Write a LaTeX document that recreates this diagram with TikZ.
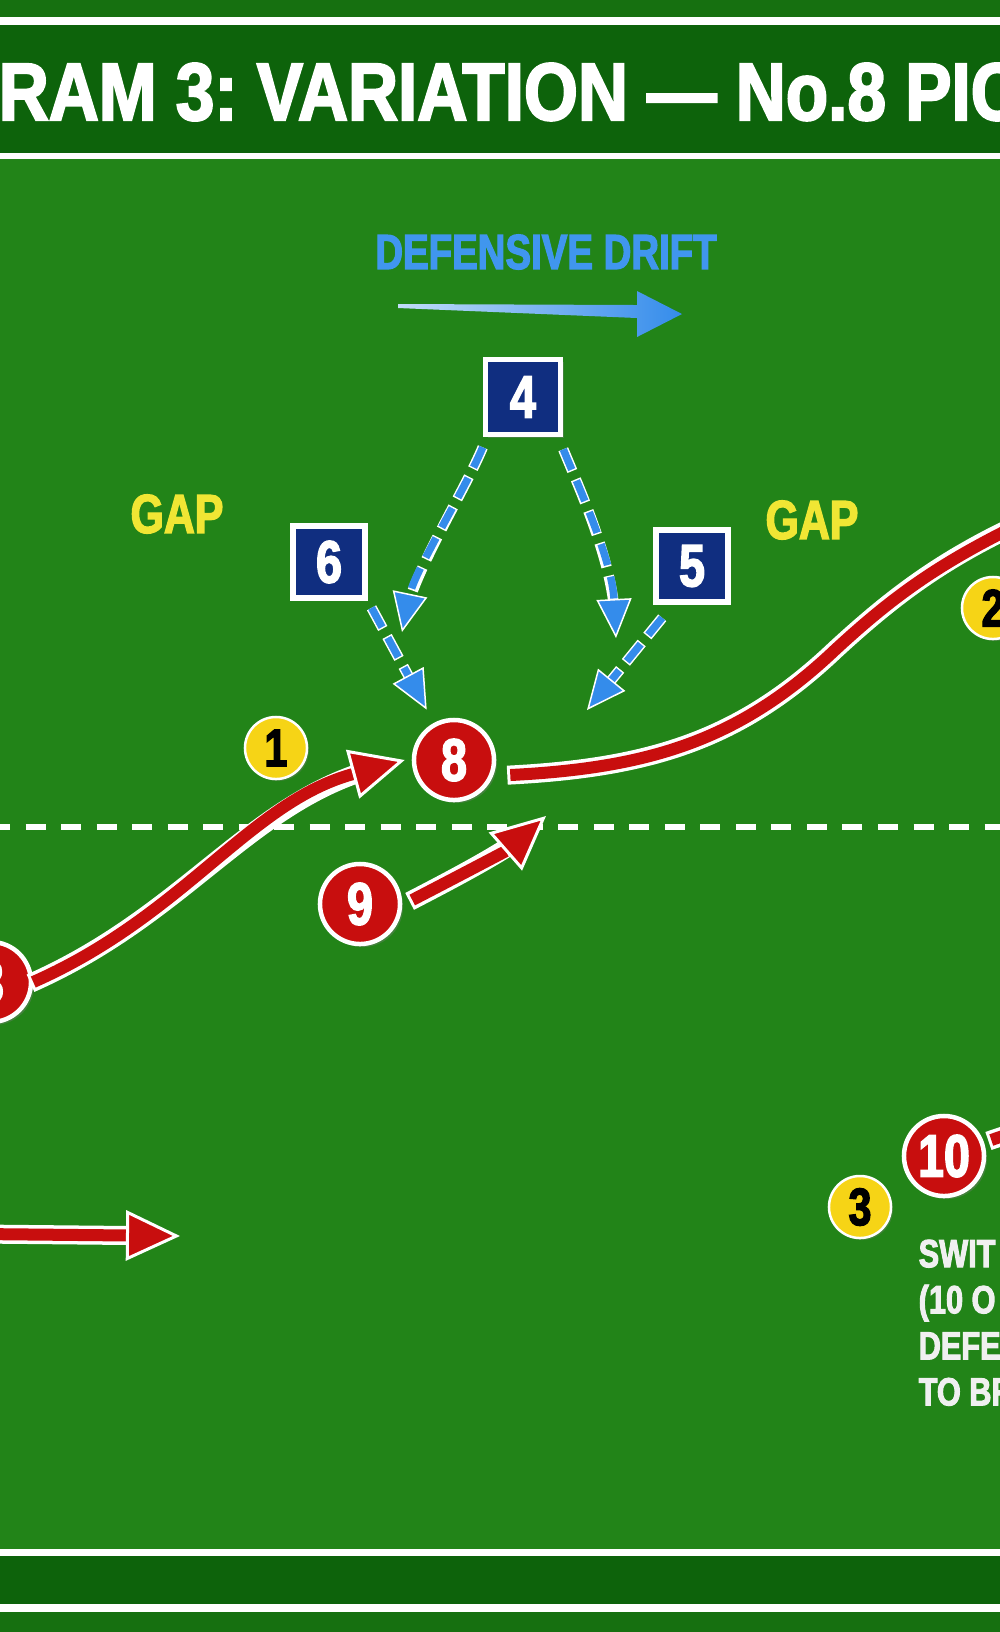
\documentclass[tikz,border=0pt]{standalone}
\usepackage{fontspec}
\setmainfont{Liberation Sans}
\newfontfamily\titlefont[FakeStretch=0.85, FakeBold=2.5]{Liberation Sans Bold}
\newfontfamily\condfont[FakeStretch=0.78, FakeBold=2.5]{Liberation Sans Bold}
\frenchspacing
\usetikzlibrary{arrows.meta,shadows}

\definecolor{pitch}{RGB}{34,132,24}
\definecolor{pitchdark}{RGB}{13,99,11}
\definecolor{pitchedge}{RGB}{22,112,16}
\definecolor{runred}{RGB}{200,14,14}
\definecolor{navy}{RGB}{16,46,128}
\definecolor{driftblue}{RGB}{52,140,235}
\definecolor{driftlabel}{RGB}{64,150,238}
\definecolor{supportyellow}{RGB}{246,212,22}
\definecolor{gapyellow}{RGB}{240,230,52}

\tikzset{
  attacker/.style={circle, fill=runred, draw=white, line width=0.045cm, minimum size=0.8cm,
    inner sep=0pt, text=white, font=\condfont\fontsize{17}{17}\selectfont,
    drop shadow={opacity=0.35, shadow xshift=0.03cm, shadow yshift=-0.03cm}},
  support/.style={circle, fill=supportyellow, draw=white, line width=0.025cm, minimum size=0.62cm,
    inner sep=0pt, text=black, font=\condfont\fontsize{15}{15}\selectfont,
    drop shadow={opacity=0.3, shadow xshift=0.02cm, shadow yshift=-0.02cm}},
  defender/.style={rectangle, fill=navy, draw=white, line width=0.055cm, minimum size=0.72cm,
    inner sep=0pt, text=white, font=\condfont\fontsize{17}{17}\selectfont,
    drop shadow={opacity=0.35, shadow xshift=0.03cm, shadow yshift=-0.03cm}},
  gaplabel/.style={inner sep=0pt, text=gapyellow, font=\condfont\fontsize{15.6}{15.6}\selectfont},
  driftlabel/.style={inner sep=0pt, text=driftlabel, font=\condfont\fontsize{14}{14}\selectfont},
  titletext/.style={inner sep=0pt, text=white, font=\titlefont\fontsize{23.2}{23.2}\selectfont},
  notetext/.style={inner sep=0pt, align=left, text=white!94!black, font=\condfont\fontsize{11.2}{13.1}\selectfont},
  runline/.style={draw=runred, line width=0.12cm,
    preaction={draw=white, line width=0.19cm, arrows=-, shorten >=0.3cm, shorten <=-0.03cm}},
  run/.style={runline, -{Triangle[length=0.54cm,width=0.5cm,line width=0.03cm,color=white,fill=runred]}},
  drift/.style={draw=driftblue, line width=0.075cm, dash pattern=on 0.22cm off 0.12cm,
    preaction={draw=white, line width=0.105cm, dash pattern=on 0.25cm off 0.09cm, dash phase=0.015cm,
      arrows=-, shorten >=#1},
    -{Triangle[length=0.39cm,width=0.35cm,line width=0.015cm,color=white,fill=driftblue]}},
  drift/.default=0.2cm
}

\begin{document}
\begin{tikzpicture}[x=0.01cm, y=-0.01cm]
    \useasboundingbox (0,0) rectangle (1000,1632);
    \clip (0,0) rectangle (1000,1632);

    % Pitch and bands
    \fill[pitch] (0,0) rectangle (1000,1632);
    \fill[pitchedge] (0,0) rectangle (1000,17);
    \fill[white] (0,17) rectangle (1000,25);
    \fill[pitchdark] (0,25) rectangle (1000,153);
    \fill[white] (0,153) rectangle (1000,159);
    \fill[white] (0,1549) rectangle (1000,1556);
    \fill[pitchdark] (0,1556) rectangle (1000,1604);
    \fill[white] (0,1604) rectangle (1000,1612);
    \fill[pitchedge] (0,1612) rectangle (1000,1632);

    % Halfway line
    \draw[white, line width=0.06cm, dash pattern=on 0.2cm off 0.155cm, dash phase=0.1cm] (0,827) -- (1000,827);

    % Title
    \node[titletext, anchor=west] (title) at (-2,92) {RAM 3: VARIATION — No.8 PIC};

    % Players
    \node[attacker] (r3) at (-9,982) {3};
    \node[attacker] (n8) at (454,760) {8};
    \node[attacker] (n9) at (360,904) {9};
    \node[attacker] (n10) at (944,1156) {10};
    \node[support] (y1) at (276,748) {1};
    \node[support] (y2) at (993,608) {2};
    \node[support] (y3) at (860,1207) {3};
    \node[defender, minimum size=0.75cm] (n4) at (523,397) {4};
    \node[defender] (n6) at (329,562) {6};
    \node[defender] (n5) at (692,566) {5};

    % Free ends
    \coordinate (tip9) at (546,816);
    \coordinate (exitR) at (1060,505);
    \coordinate (entryL) at (-20,1234);
    \coordinate (tipL) at (180,1236);
    \coordinate (exit10) at (1050,1120);
    \coordinate (drop4a) at (402,632);
    \coordinate (drop4b) at (616,638);
    \coordinate (drop5) at (587,710);

    % Defensive drift arrow
    \shade[left color=driftblue!30!white, right color=driftblue]
      (398,304) -- (637,305) -- (637,291) -- (682,314) -- (637,337) -- (637,318) -- (398,308) -- cycle;

    % Attacking runs
    \draw[run] (r3.east) .. controls (185,915) and (250,802) .. ([xshift=-0.07cm]n8.west);
    \draw[run] ([xshift=0.1cm,yshift=0.04cm]n9.east) .. controls (451,880) and (506,851) .. (tip9);
    \draw[runline] ([xshift=0.14cm,yshift=-0.15cm]n8.east) .. controls (650,768) and (740,740) .. (835,650)
      .. controls (900,590) and (950,555) .. (exitR);
    \draw[run] (entryL) -- (tipL);
    \draw[runline] ([xshift=0.05cm,yshift=0.16cm]n10.east) -- (exit10);

    % Defenders closing in
    \draw[drift] ([yshift=-0.1cm]n4.south west) .. controls (465,490) and (415,570) .. (drop4a);
    \draw[drift] ([yshift=-0.12cm]n4.south east) .. controls (580,490) and (612,560) .. (drop4b);
    \draw[drift=0.35cm, shorten <=0.08cm, shorten >=0.15cm] (n6.south east) -- (n8);
    \draw[drift] ([xshift=0.09cm,yshift=-0.13cm]n5.south west) -- (drop5);

    % Labels
    \node[driftlabel] (drift) at (546,252) {DEFENSIVE DRIFT};
    \node[gaplabel] (gapL) at (177,514) {GAP};
    \node[gaplabel] (gapR) at (812,520) {GAP};
    \node[notetext, anchor=north west] (note) at (918,1239) {SWIT\\(10 O\\DEFE\\TO BR};
\end{tikzpicture}
\end{document}
